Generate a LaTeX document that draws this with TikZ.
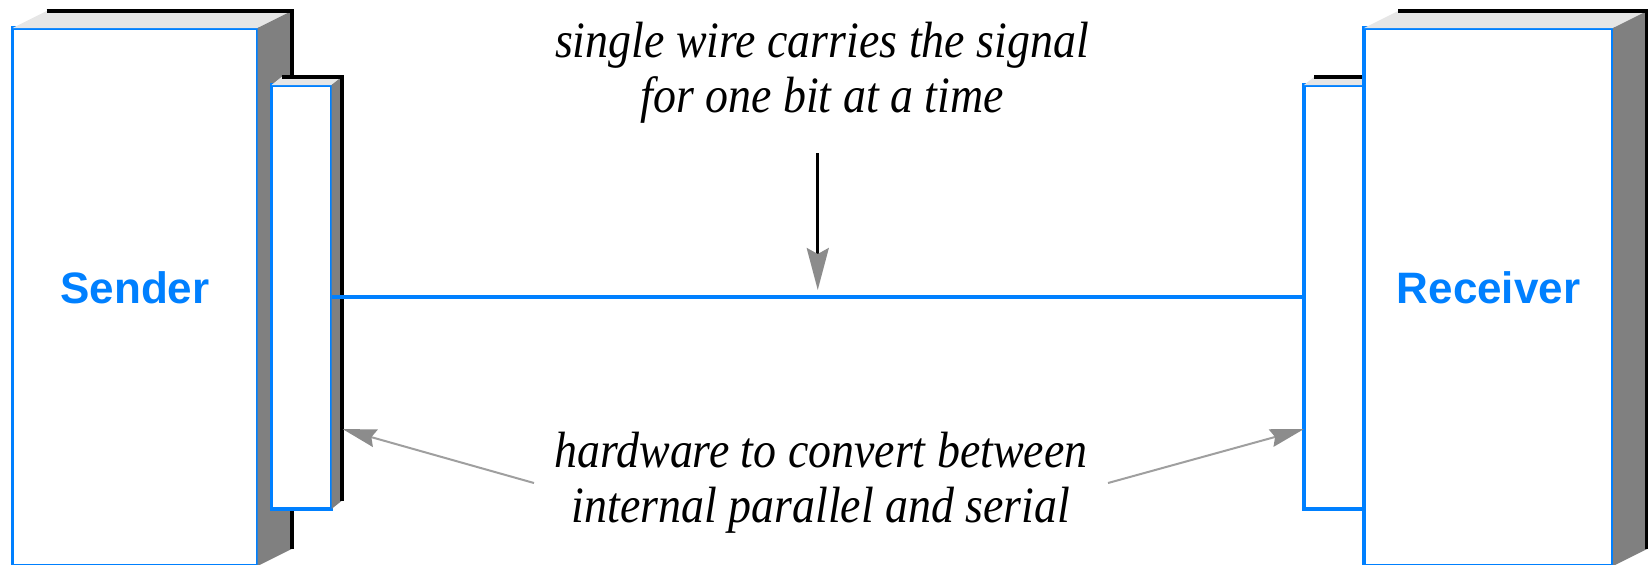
\documentclass[tikz,border=0pt]{standalone}
\usepackage{fontspec}
\setmainfont{Liberation Serif}
\setsansfont{Liberation Sans}
\newfontfamily\notefont{Liberation Serif}[FakeStretch=0.9]
\usepackage{tikz}
\usetikzlibrary{arrows.meta, positioning, backgrounds}
\definecolor{sigblue}{RGB}{0,128,255}
\definecolor{topgray}{RGB}{230,230,230}
\definecolor{sidegray}{RGB}{128,128,128}
\definecolor{headgray}{RGB}{140,140,140}

\begin{document}
\begin{tikzpicture}[x=0.5pt, y=-0.5pt,
      unit/.style={draw=sigblue, line width=1.6pt, fill=white, inner sep=0pt, outer sep=0pt,
                   anchor=north west, minimum height=269pt, text depth=9.5pt,
                   font=\sffamily\bfseries\fontsize{22}{26}\selectfont, text=sigblue},
      port/.style={draw=sigblue, line width=1.6pt, fill=white, inner sep=0pt, outer sep=0pt,
                   minimum width=30pt, minimum height=212pt},
      topface/.style={fill=topgray},
      sideface/.style={fill=sidegray},
      backedge/.style={draw=black, line width=2pt},
      note/.style={font=\notefont\itshape\fontsize{25.5}{27.5}\selectfont, align=center,
                   inner xsep=10pt},
      wire/.style={draw=sigblue, line width=1.6pt},
      callout/.style={line width=1.5pt, shorten >=3.5pt,
                      -{Stealth[length=21pt, width=11pt, inset=3pt, color=headgray]}},
      pointer/.style={draw=gray!75, line width=1pt,
                      -{Stealth[length=17pt, width=9pt, inset=2pt, color=headgray]}}]

    \useasboundingbox (0,0) rectangle (1648,564);

    % ── Sender ──
    \node[unit, minimum width=122.5pt] (sender) at (12.5,28) {Sender};
    \fill[topface] (sender.north west) -- ++(34,-17) -- ([shift={(34,-17)}]sender.north east)
      -- (sender.north east) -- cycle;
    \fill[sideface] (sender.north east) -- ++(34,-17) -- ([shift={(34,-17)}]sender.south east)
      -- (sender.south east) -- cycle;
    \draw[backedge] ([shift={(34,-17)}]sender.north west) -- ([shift={(34,-17)}]sender.north east)
      -- ([shift={(34,-17)}]sender.south east);

    % ── Interface du sender ──
    \node[port, below right=28.5pt and 7pt of sender.north east] (sndport) {};
    \fill[topface] (sndport.north west) -- ++(10,-8) -- ([shift={(10,-8)}]sndport.north east)
      -- (sndport.north east) -- cycle;
    \fill[sideface] (sndport.north east) -- ++(10,-8) -- ([shift={(10,-8)}]sndport.south east)
      -- (sndport.south east) -- cycle;
    \draw[backedge] ([shift={(10,-8)}]sndport.north west) -- ([shift={(10,-8)}]sndport.north east)
      -- ([shift={(10,-8)}]sndport.south east);

    % ── Receiver ──
    \node[unit, minimum width=124.5pt] (receiver) at (1364,28) {Receiver};
    \fill[topface] (receiver.north west) -- ++(34,-17) -- ([shift={(34,-17)}]receiver.north east)
      -- (receiver.north east) -- cycle;
    \fill[sideface] (receiver.north east) -- ++(34,-17) -- ([shift={(34,-17)}]receiver.south east)
      -- (receiver.south east) -- cycle;
    \draw[backedge] ([shift={(34,-17)}]receiver.north west) -- ([shift={(34,-17)}]receiver.north east)
      -- ([shift={(34,-17)}]receiver.south east);

    % ── Interface du receiver (derriere) ──
    \begin{scope}[on background layer]
      \node[port, below left=28.5pt and 0pt of receiver.north west] (rcvport) {};
      \fill[topface] (rcvport.north west) -- ++(10,-8) -- ([shift={(10,-8)}]rcvport.north east)
        -- (rcvport.north east) -- cycle;
      \draw[backedge] ([shift={(10,-8)}]rcvport.north west) -- ([shift={(10,-8)}]rcvport.north east);
    \end{scope}

    % ── Textes ──
    \node[note] (wirenote) at (822,73) {single wire carries the signal\\for one bit at a time};
    \node[note] (hwnote) at (821,483) {hardware to convert between\\internal parallel and serial};

    % ── Fils et fleches ──
    \draw[wire] (sndport.east) -- (rcvport.west) coordinate[pos=.5] (wiremid);
    \path (wiremid) ++(0,-144) coordinate (calltop);
    \draw[callout] (calltop) -- (wiremid);
    \draw[pointer] (hwnote.west) -- ([xshift=5.5pt, yshift=40pt]sndport.south east);
    \draw[pointer] (hwnote.east) -- ([yshift=40pt]rcvport.south west);

  \end{tikzpicture}
\end{document}
